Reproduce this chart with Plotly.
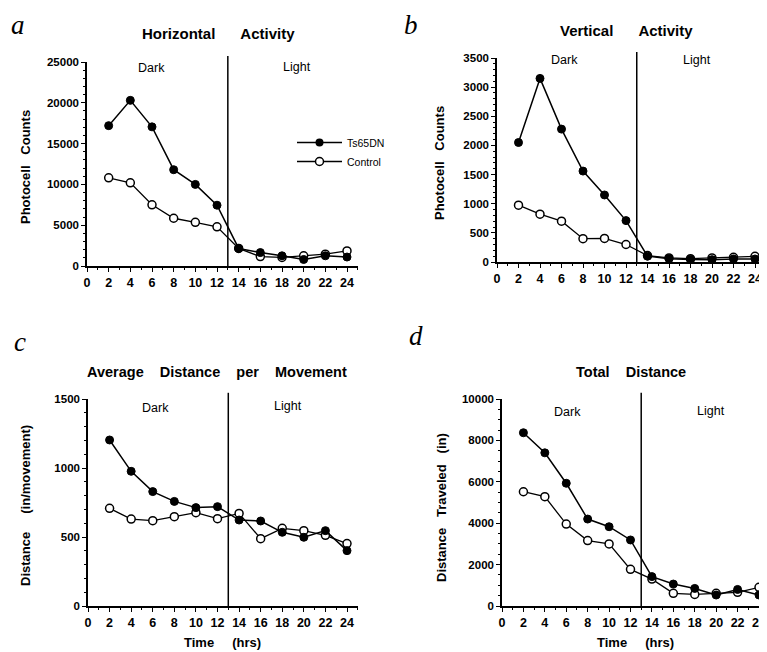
import plotly.graph_objects as go

OFF = 8
W, H = 767 - OFF, 652 - OFF
hours = [2, 4, 6, 8, 10, 12, 14, 16, 18, 20, 22, 24]

# Panel a: Horizontal Activity
horiz_ts = [17200, 20300, 17050, 11800, 10000, 7450, 2150, 1650, 1250, 800, 1250, 1100]
horiz_ctrl = [10800, 10200, 7500, 5850, 5350, 4800, 2150, 1150, 1050, 1250, 1450, 1850]
# Panel b: Vertical Activity
vert_ts = [2050, 3150, 2280, 1560, 1150, 710, 100, 57, 45, 40, 52, 52]
vert_ctrl = [975, 820, 700, 400, 405, 300, 110, 70, 57, 70, 80, 98]
# Panel c: Average Distance per Movement
avg_ts = [1203, 976, 829, 758, 713, 720, 623, 616, 534, 498, 546, 401]
avg_ctrl = [708, 630, 618, 647, 676, 633, 671, 488, 563, 546, 512, 452]
# Panel d: Total Distance
tot_ts = [8370, 7400, 5930, 4200, 3830, 3190, 1420, 1060, 850, 530, 800, 530]
tot_ctrl = [5520, 5280, 3960, 3160, 3000, 1770, 1300, 610, 560, 610, 660, 900]

x_ticks = list(range(0, 25, 2))

def px(x):
    return (x - OFF) / W

def py(y):
    return 1 - (y - OFF) / H

panels = [
    dict(x0=87, x24=347, xmax=25.0, yb=266, yt=62, ymax=25000, dtick=5000, minor=1000,
         ts=horiz_ts, ctrl=horiz_ctrl),
    dict(x0=497, x24=755, xmax=25.0, yb=262, yt=58, ymax=3500, dtick=500, minor=100,
         ts=vert_ts, ctrl=vert_ctrl),
    dict(x0=88, x24=347, xmax=25.0, yb=606, yt=399, ymax=1500, dtick=500, minor=100,
         ts=avg_ts, ctrl=avg_ctrl),
    dict(x0=502, x24=759, xmax=24.6, yb=606, yt=399, ymax=10000, dtick=2000, minor=500,
         ts=tot_ts, ctrl=tot_ctrl),
]

FONT = "Liberation Sans, Arial, Helvetica, sans-serif"
fig = go.Figure()
layout = dict(template="none", width=W, height=H, margin=dict(l=0, r=0, t=0, b=0, pad=0),
              paper_bgcolor="white", plot_bgcolor="white",
              font=dict(family=FONT, color="black", size=11),
              showlegend=True)

for i, p in enumerate(panels):
    n = "" if i == 0 else str(i + 1)
    xa, ya = "x" + n, "y" + n
    upx = (p["x24"] - p["x0"]) / 24.0
    xend = p["x0"] + upx * p["xmax"]
    layout["xaxis" + n] = dict(
        domain=[px(p["x0"]), px(xend)], range=[0, p["xmax"]], anchor=ya, automargin=False,
        tickvals=x_ticks, ticks="outside", ticklen=4, tickwidth=1.3, tickcolor="black",
        showline=True, linecolor="black", linewidth=1.5, showgrid=False, zeroline=False,
        tickfont=dict(size=12.5, family=FONT, weight="bold", color="black"),
        minor=dict(dtick=1, ticks="outside", ticklen=2, tickcolor="black", showgrid=False),
    )
    layout["yaxis" + n] = dict(
        domain=[py(p["yb"]), py(p["yt"])], range=[0, p["ymax"]], anchor=xa, automargin=False,
        dtick=p["dtick"], tickformat="d", ticks="outside", ticklen=4, tickwidth=1.3,
        tickcolor="black",
        showline=True, linecolor="black", linewidth=1.5, showgrid=False, zeroline=False,
        tickfont=dict(size=11.5, family=FONT, weight="bold", color="black"),
        minor=dict(dtick=p["minor"], ticks="outside", ticklen=2, tickcolor="black",
                   showgrid=False),
    )
    fig.add_trace(go.Scatter(
        x=hours, y=p["ctrl"], xaxis=xa, yaxis=ya, mode="lines+markers", name="Control",
        line=dict(color="black", width=1.3),
        marker=dict(symbol="circle", size=8, color="white", line=dict(color="black", width=1.5)),
        showlegend=False))
    fig.add_trace(go.Scatter(
        x=hours, y=p["ts"], xaxis=xa, yaxis=ya, mode="lines+markers", name="Ts65DN",
        line=dict(color="black", width=1.5),
        marker=dict(symbol="circle", size=8, color="black", line=dict(color="black", width=1)),
        showlegend=False))
    fig.add_shape(type="line", xref=xa, yref=ya + " domain", x0=13, x1=13, y0=0, y1=1.03,
                  line=dict(color="black", width=1.5))

# legend entries (panel a)
fig.add_trace(go.Scatter(x=[None], y=[None], mode="lines+markers", name="Ts65DN",
                         line=dict(color="black", width=1.5),
                         marker=dict(symbol="circle", size=8, color="black")))
fig.add_trace(go.Scatter(x=[None], y=[None], mode="lines+markers", name="Control",
                         line=dict(color="black", width=1.3),
                         marker=dict(symbol="circle", size=8, color="white",
                                     line=dict(color="black", width=1.5))))
layout["legend"] = dict(x=px(292), y=py(128), xanchor="left", yanchor="top",
                        bgcolor="rgba(0,0,0,0)", font=dict(size=10.5, family=FONT, color="black"),
                        itemwidth=45, tracegroupgap=0)

NB = "\u00a0"
ann = []
def text(x, y, s, size=11, bold=True, angle=0, family=FONT, italic=False):
    ann.append(dict(x=px(x), y=py(y), xref="paper", yref="paper", text=s, showarrow=False,
                    textangle=angle, xanchor="center", yanchor="middle",
                    font=dict(size=size, family=family, color="black",
                              weight="bold" if bold else "normal",
                              style="italic" if italic else "normal")))

SERIF = "Liberation Serif, Times New Roman, serif"
text(18, 25, "a", size=27, bold=False, family=SERIF, italic=True)
text(411, 25, "b", size=27, bold=False, family=SERIF, italic=True)
text(20, 342, "c", size=27, bold=False, family=SERIF, italic=True)
text(416, 336, "d", size=27, bold=False, family=SERIF, italic=True)

text(218, 33, "Horizontal" + NB * 6 + "Activity", size=15)
text(626, 31, "Vertical" + NB * 6 + "Activity", size=15)
text(217, 372, "Average" + NB * 4 + "Distance" + NB * 4 + "per" + NB * 4 + "Movement", size=14.5)
text(631, 372, "Total" + NB * 4 + "Distance", size=14.5)

for (x, y, s) in [(151, 68, "Dark"), (297, 67, "Light"), (564, 60, "Dark"), (697, 60, "Light"),
                  (155, 408, "Dark"), (288, 406, "Light"), (567, 412, "Dark"), (711, 411, "Light")]:
    text(x, y, s, size=12.5, bold=False)

text(25, 167, "Photocell" + NB * 3 + "Counts", size=13, angle=-90)
text(439, 163, "Photocell" + NB * 3 + "Counts", size=13, angle=-90)
text(25, 506, "Distance" + NB * 5 + "(in/movement)", size=13, angle=-90)
text(441, 508, "Distance" + NB * 3 + "Traveled" + NB * 3 + "(in)", size=13, angle=-90)

text(222, 642, "Time" + NB * 5 + "(hrs)", size=13)
text(635, 642, "Time" + NB * 5 + "(hrs)", size=13)

layout["annotations"] = ann
fig.update_layout(**layout)
fig.write_html("out.html")
